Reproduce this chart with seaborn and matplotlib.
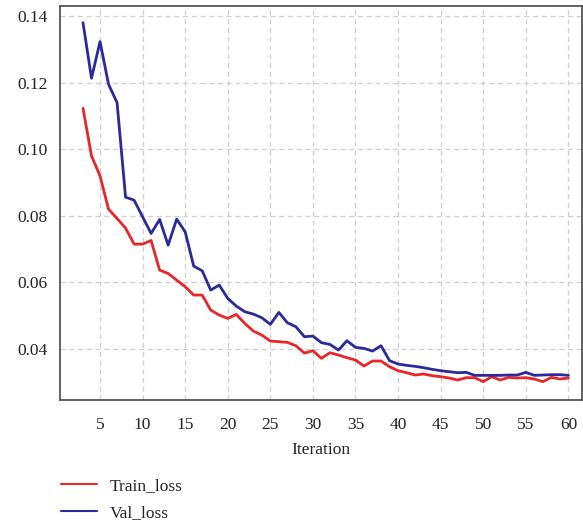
import numpy as np
import pandas as pd
import matplotlib
matplotlib.use("Agg")
import matplotlib.pyplot as plt
import seaborn as sns
from matplotlib.lines import Line2D

iterations = list(range(3, 61))
train_loss = [0.1123, 0.0980, 0.0920, 0.0820, 0.0792, 0.0763, 0.0715, 0.0715, 0.0726,
              0.0637, 0.0627, 0.0607, 0.0587, 0.0562, 0.0562, 0.0517, 0.0502, 0.0492,
              0.0504, 0.0477, 0.0454, 0.0442, 0.0424, 0.0422, 0.0420, 0.0410, 0.0388,
              0.0395, 0.0372, 0.0389, 0.0382, 0.0374, 0.0367, 0.0349, 0.0364, 0.0364,
              0.0347, 0.0335, 0.0329, 0.0322, 0.0325, 0.0320, 0.0317, 0.0313, 0.0307,
              0.0314, 0.0314, 0.0302, 0.0317, 0.0307, 0.0315, 0.0313, 0.0314, 0.0310,
              0.0302, 0.0315, 0.0310, 0.0313]
val_loss = [0.1380, 0.1213, 0.1323, 0.1195, 0.1140, 0.0856, 0.0847, 0.0797, 0.0747,
            0.0789, 0.0712, 0.0790, 0.0752, 0.0649, 0.0635, 0.0577, 0.0592, 0.0552,
            0.0529, 0.0512, 0.0505, 0.0494, 0.0474, 0.0510, 0.0479, 0.0467, 0.0437,
            0.0439, 0.0419, 0.0414, 0.0397, 0.0425, 0.0405, 0.0402, 0.0394, 0.0410,
            0.0365, 0.0355, 0.0351, 0.0348, 0.0344, 0.0339, 0.0335, 0.0332, 0.0329,
            0.0330, 0.0321, 0.0321, 0.0321, 0.0321, 0.0322, 0.0322, 0.0330, 0.0321,
            0.0322, 0.0323, 0.0323, 0.0321]
series_names = ["Train_loss", "Val_loss"]
colors = ["#e8262a", "#2b2a9b"]
x_ticks = list(range(5, 61, 5))
y_ticks = [0.04, 0.06, 0.08, 0.10, 0.12, 0.14]

df = pd.DataFrame({
    "Iteration": iterations * 2,
    "loss": train_loss + val_loss,
    "series": [series_names[0]] * len(iterations) + [series_names[1]] * len(iterations),
})

sns.set_style("white")
plt.rcParams["font.family"] = ["Liberation Serif", "DejaVu Serif"]

fig = plt.figure(figsize=(5.83, 5.22), dpi=100)
ax = fig.add_axes([60 / 583, 1 - 400 / 522, 522 / 583, 394 / 522])

sns.lineplot(data=df, x="Iteration", y="loss", hue="series",
             palette=dict(zip(series_names, colors)), linewidth=2.0, ax=ax, legend=False)

ax.set_xlim(0.3, 61.6)
ax.set_ylim(0.0247, 0.143)
ax.set_xticks(x_ticks)
ax.set_yticks(y_ticks)
ax.set_yticklabels([f"{v:.2f}" for v in y_ticks])
ax.grid(True, linestyle=(0, (4, 3)), color="#cfcfcf", linewidth=0.9)
ax.set_axisbelow(True)
for s in ax.spines.values():
    s.set_color("#555555")
    s.set_linewidth(1.3)
ax.tick_params(axis="both", direction="out", length=4, width=1.2, color="#555555",
               labelsize=12.5, labelcolor="#222222")
ax.tick_params(axis="x", pad=8)
ax.tick_params(axis="y", pad=5)
ax.set_xlabel("Iteration", fontsize=12.5, color="#222222", labelpad=7)
ax.set_ylabel("")

handles = [Line2D([0], [0], color=c, linewidth=1.5) for c in colors]
fig.legend(handles, series_names, loc="upper left",
           bbox_to_anchor=(54 / 583, 1 - 471 / 522), frameon=False,
           fontsize=12.5, handlelength=2.1, handletextpad=0.7, labelspacing=0.6,
           labelcolor="#222222", borderaxespad=0.0)

fig.savefig("out.png", dpi=100)
